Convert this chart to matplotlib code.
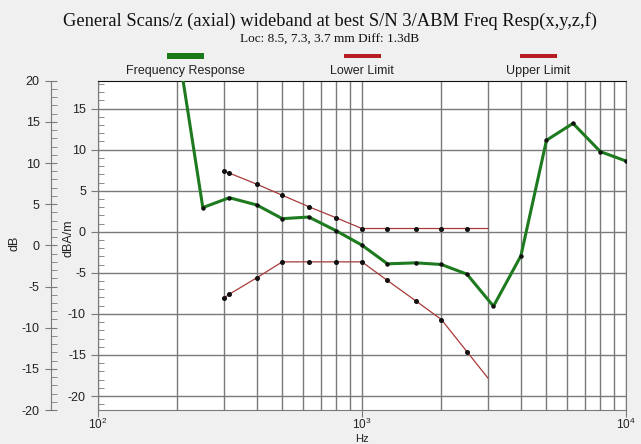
import matplotlib
matplotlib.use('Agg')
import matplotlib.pyplot as plt
import numpy as np
from matplotlib.lines import Line2D
from matplotlib.ticker import MultipleLocator, LogLocator

plt.rcParams['font.family'] = ['Liberation Sans', 'DejaVu Sans']
plt.rcParams['mathtext.fontset'] = 'custom'
plt.rcParams['mathtext.rm'] = 'Liberation Sans'
plt.rcParams['axes.unicode_minus'] = False

# frequency response (dBA/m)
resp_hz = [200, 250, 315, 400, 500, 630, 800, 1000, 1250, 1600, 2000, 2500,
           3150, 4000, 5000, 6300, 8000, 10000]
resp_db = [23.0, 2.95, 4.15, 3.27, 1.6, 1.8, 0.12, -1.62, -3.9, -3.78, -3.98,
           -5.16, -9.06, -2.93, 11.15, 13.2, 9.76, 8.62]

# limit masks
limit_hz = [300, 315, 400, 500, 630, 800, 1000, 1250, 1600, 2000, 2500, 3000]
upper_db = [7.4, 7.15, 5.8, 4.45, 3.05, 1.7, 0.4, 0.4, 0.4, 0.4, 0.4, 0.4]
lower_db = [-8.1, -7.6, -5.6, -3.66, -3.66, -3.66, -3.66, -5.93, -8.41,
            -10.68, -14.6, -17.8]

legend_names = ['Frequency Response', 'Lower Limit', 'Upper Limit']
legend_cols = ['#1a7a1a', '#b81c24', '#b81c24']

W, H = 641, 444
fig = plt.figure(figsize=(W / 100, H / 100), dpi=100, facecolor='#f0f0f0')

def fx(px):
    return px / W

def fy(py):
    return 1 - py / H

top, bot = 80.7, 410
ax = fig.add_axes([fx(97.7), fy(bot), fx(626 - 97.7), (bot - top) / H])
ax.set_facecolor('white')
ax.set_xscale('log')
ax.set_xlim(100, 10000)
ax.set_ylim(-21.7, 18.4)

gridc = '#7a7a7a'
ax.xaxis.set_major_locator(LogLocator(base=10))
ax.xaxis.set_minor_locator(LogLocator(base=10, subs=np.arange(2, 10)))
ax.yaxis.set_major_locator(MultipleLocator(5))
ax.yaxis.set_minor_locator(MultipleLocator(1))
ax.grid(True, which='both', axis='x', color=gridc, lw=1.0)
ax.grid(True, which='major', axis='y', color=gridc, lw=1.0)
ax.tick_params(axis='x', which='major', direction='out', length=5, color=gridc,
               labelsize=8.5, pad=0, labelcolor='#222222')
ax.tick_params(axis='x', which='minor', length=0)
ax.tick_params(axis='y', which='major', direction='out', length=5, color=gridc,
               labelsize=9, labelcolor='#222222')
ax.tick_params(axis='y', which='minor', direction='in', length=4, color=gridc)
for s in ['left', 'bottom', 'right']:
    ax.spines[s].set_color(gridc)
ax.spines['top'].set_color('#111111')
ax.set_axisbelow(True)

ax.plot(resp_hz, resp_db, color='#1e7a1e', lw=2.2, marker='o', ms=2.2,
        mfc='#111111', mec='#111111', zorder=4)
ax.plot(limit_hz, upper_db, color='#a83a3a', lw=0.9, marker='o', ms=2.6,
        mfc='#111111', mec='#111111', markevery=slice(0, -1), zorder=3)
ax.plot(limit_hz, lower_db, color='#a83a3a', lw=0.9, marker='o', ms=2.6,
        mfc='#111111', mec='#111111', markevery=slice(0, -1), zorder=3)

fig.text(fx(362), fy(443.5), 'Hz', ha='center', va='bottom', fontsize=8,
         color='#222222')

# outer dB axis
ax2 = fig.add_axes([fx(50.7), fy(bot), 0.01, (bot - top) / H])
ax2.patch.set_visible(False)
for s in ['top', 'right', 'bottom']:
    ax2.spines[s].set_visible(False)
ax2.spines['left'].set_color(gridc)
ax2.set_ylim(-20, 20)
ax2.set_xticks([])
ax2.yaxis.set_major_locator(MultipleLocator(5))
ax2.yaxis.set_minor_locator(MultipleLocator(1))
ax2.tick_params(axis='y', which='major', direction='inout', length=9, color=gridc,
                labelsize=9, labelcolor='#222222')
ax2.tick_params(axis='y', which='minor', direction='in', length=4, color=gridc)

fig.text(fx(15), fy(243), 'dB', rotation=90, ha='center', va='center',
         fontsize=9, color='#222222')
fig.text(fx(68), fy(238), 'dBA/m', rotation=90, ha='center', va='center',
         fontsize=9, color='#222222')

# titles
fig.text(fx(330), fy(21), 'General Scans/z (axial) wideband at best S/N 3/ABM Freq Resp(x,y,z,f)',
         ha='center', va='center', fontsize=13.3, family='Liberation Serif',
         color='#111111')
fig.text(fx(330), fy(39), 'Loc: 8.5, 7.3, 3.7 mm Diff: 1.3dB', ha='center',
         va='center', fontsize=9.5, family='Liberation Serif', color='#111111')

# legend across the top
centers = [185.5, 362, 538]
widths = [6, 4, 4]
for cx, name, col, lw in zip(centers, legend_names, legend_cols, widths):
    fig.add_artist(Line2D([fx(cx - 18.5), fx(cx + 18.5)], [fy(56), fy(56)],
                          color=col, lw=lw * 0.72, solid_capstyle='butt'))
    fig.text(fx(cx), fy(71), name, ha='center', va='center', fontsize=9,
             color='#222222')

fig.savefig('out.png', dpi=100, facecolor=fig.get_facecolor())
